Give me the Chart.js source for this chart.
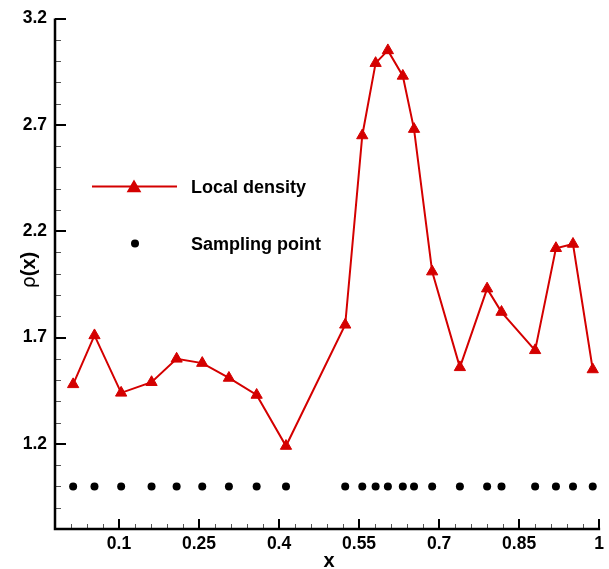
<!DOCTYPE html>
<html>
<head>
<meta charset="utf-8">
<script src="https://cdn.jsdelivr.net/npm/chart.js@4.4.0/dist/chart.umd.min.js"></script>
<style>
  html, body { margin: 0; padding: 0; background: #fff; }
  #wrap { width: 609px; height: 569px; position: relative; }
</style>
</head>
<body>
<div id="wrap"><canvas id="c"></canvas></div>
<script>
// sample positions and local density
const xSample = [0.014, 0.054, 0.104, 0.161, 0.208, 0.256, 0.306, 0.358, 0.413,
  0.524, 0.556, 0.581, 0.604, 0.632, 0.653, 0.687, 0.739, 0.790, 0.817,
  0.880, 0.919, 0.951, 0.988];
const density = [1.48, 1.71, 1.44, 1.49, 1.60, 1.58, 1.51, 1.43, 1.19,
  1.76, 2.65, 2.99, 3.05, 2.93, 2.68, 2.01, 1.56, 1.93, 1.82,
  1.64, 2.12, 2.14, 1.55];
// sampling points are all drawn on the rho = 1.0 line
const samplingLevel = [1.0, 1.0, 1.0, 1.0, 1.0, 1.0, 1.0, 1.0, 1.0,
  1.0, 1.0, 1.0, 1.0, 1.0, 1.0, 1.0, 1.0, 1.0, 1.0,
  1.0, 1.0, 1.0, 1.0];

const xTicks = [0.1, 0.25, 0.4, 0.55, 0.7, 0.85, 1];
const xTickLabels = ['0.1', '0.25', '0.4', '0.55', '0.7', '0.85', '1'];
const yTicks = [1.2, 1.7, 2.2, 2.7, 3.2];
const yTickLabels = ['1.2', '1.7', '2.2', '2.7', '3.2'];

const RED = '#d40000';
const FONT = '"Liberation Sans", Arial, sans-serif';

// axes, inward ticks, legend and axis titles
const decor = {
  id: 'decor',
  afterDatasetsDraw(chart) {
    const { ctx, chartArea: a, scales: { x, y } } = chart;
    ctx.save();

    // minor ticks
    ctx.strokeStyle = '#555';
    ctx.lineWidth = 1;
    ctx.beginPath();
    for (let v = 0.01; v < 1; v += 0.03) {
      const px = Math.round(x.getPixelForValue(v)) + 0.5;
      ctx.moveTo(px, a.bottom); ctx.lineTo(px, a.bottom - 5);
    }
    for (let v = 0.9; v < 3.2; v += 0.1) {
      const py = Math.round(y.getPixelForValue(v)) + 0.5;
      ctx.moveTo(a.left, py); ctx.lineTo(a.left + 6, py);
    }
    ctx.stroke();

    // major ticks
    ctx.strokeStyle = '#000';
    ctx.lineWidth = 2;
    ctx.beginPath();
    xTicks.forEach(v => {
      const px = Math.round(x.getPixelForValue(v));
      ctx.moveTo(px, a.bottom); ctx.lineTo(px, a.bottom - 10);
    });
    yTicks.forEach(v => {
      const py = Math.round(y.getPixelForValue(v));
      ctx.moveTo(a.left, py); ctx.lineTo(a.left + 11, py);
    });
    ctx.stroke();

    // axis lines (left + bottom only)
    ctx.lineWidth = 2.5;
    ctx.beginPath();
    ctx.moveTo(a.left, a.top);
    ctx.lineTo(a.left, a.bottom);
    ctx.lineTo(a.right + 1, a.bottom);
    ctx.stroke();

    // legend
    ctx.strokeStyle = RED;
    ctx.lineWidth = 2;
    ctx.beginPath();
    ctx.moveTo(92, 186.5); ctx.lineTo(177, 186.5);
    ctx.stroke();
    ctx.fillStyle = RED;
    Chart.helpers.drawPoint(ctx, { pointStyle: 'triangle', radius: 6.5, borderWidth: 1 }, 134, 188);
    ctx.fill();
    ctx.fillStyle = '#000';
    ctx.beginPath();
    ctx.arc(135, 243.5, 4, 0, Math.PI * 2);
    ctx.fill();
    ctx.font = 'bold 18px ' + FONT;
    ctx.textBaseline = 'alphabetic';
    ctx.textAlign = 'left';
    ctx.fillText('Local density', 191, 193);
    ctx.fillText('Sampling point', 191, 249.5);

    // x title
    ctx.font = 'bold 20px ' + FONT;
    ctx.textAlign = 'center';
    ctx.fillText('x', 329, 567);

    // y title: thin rho + bold (x), rotated
    ctx.translate(35, 270);
    ctx.rotate(-Math.PI / 2);
    const rhoFont = '19px "DejaVu Sans", sans-serif';
    const xFont = 'bold 20px ' + FONT;
    ctx.font = rhoFont;
    const w1 = ctx.measureText('ρ').width;
    ctx.font = xFont;
    const w2 = ctx.measureText('(x)').width;
    const sx = -(w1 + w2) / 2;
    ctx.textAlign = 'left';
    ctx.font = rhoFont;
    ctx.fillText('ρ', sx, 0);
    ctx.font = xFont;
    ctx.fillText('(x)', sx + w1, 0);

    ctx.restore();
  }
};

new Chart(document.getElementById('c'), {
  type: 'line',
  data: {
    datasets: [
      {
        label: 'Local density',
        data: xSample.map((v, i) => ({ x: v, y: density[i] })),
        borderColor: RED,
        backgroundColor: RED,
        borderWidth: 2,
        pointStyle: 'triangle',
        pointRadius: 6.5,
        pointBorderWidth: 1,
        pointBackgroundColor: RED,
        pointBorderColor: RED,
        tension: 0
      },
      {
        label: 'Sampling point',
        data: xSample.map((v, i) => ({ x: v, y: samplingLevel[i] })),
        showLine: false,
        pointStyle: 'circle',
        pointRadius: 4,
        pointBorderWidth: 0,
        pointBackgroundColor: '#000',
        borderColor: '#000'
      }
    ]
  },
  options: {
    responsive: true,
    maintainAspectRatio: false,
    animation: false,
    events: [],
    layout: { padding: { top: 18, right: 9, left: 0, bottom: 0 } },
    plugins: { legend: { display: false }, tooltip: { enabled: false } },
    scales: {
      x: {
        type: 'linear',
        min: -0.02,
        max: 1,
        afterFit(s) { s.height = 40; },
        afterBuildTicks(s) { s.ticks = xTicks.map(v => ({ value: v })); },
        grid: { display: false, drawTicks: false },
        border: { display: false },
        ticks: {
          autoSkip: false,
          maxRotation: 0,
          padding: 5,
          color: '#000',
          font: { family: FONT, size: 17.5, weight: 'bold' },
          callback: (v) => xTickLabels[xTicks.indexOf(v)] ?? ''
        }
      },
      y: {
        type: 'linear',
        min: 0.8,
        max: 3.2,
        afterFit(s) { s.width = 55; },
        afterBuildTicks(s) { s.ticks = yTicks.map(v => ({ value: v })); },
        grid: { display: false, drawTicks: false },
        border: { display: false },
        ticks: {
          autoSkip: false,
          padding: 8,
          color: '#000',
          font: { family: FONT, size: 17.5, weight: 'bold' },
          callback: (v) => yTickLabels[yTicks.indexOf(v)] ?? ''
        }
      }
    }
  },
  plugins: [decor]
});
</script>
</body>
</html>
